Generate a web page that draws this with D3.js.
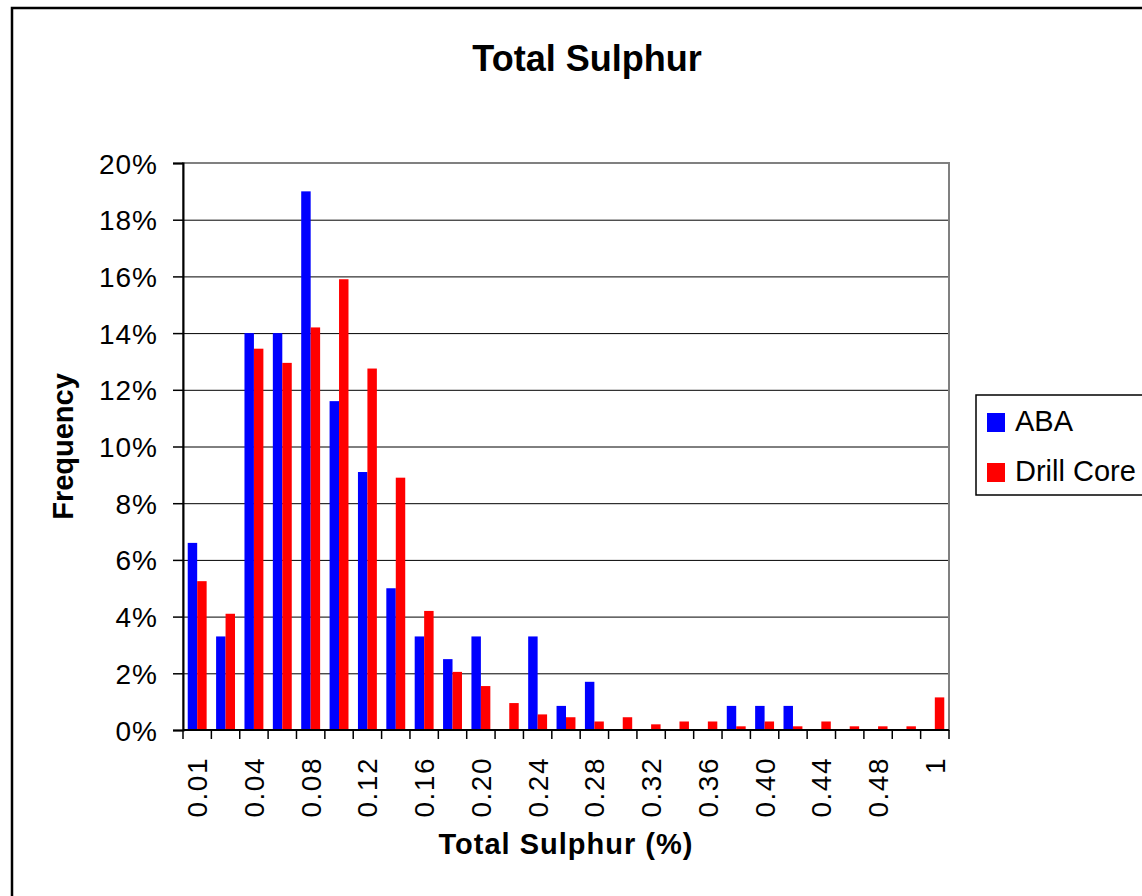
<!DOCTYPE html>
<html>
<head>
<meta charset="utf-8">
<script src="https://cdn.jsdelivr.net/npm/d3@7"></script>
<style>
  html, body { margin: 0; padding: 0; background: #fff; overflow: hidden; }
  svg { display: block; font-family: Arial, 'Liberation Sans', sans-serif; }
</style>
</head>
<body>
<svg id="chart" width="1142" height="896"></svg>
<script>
// bins of total sulphur (%)
const categories = ['0.01', '0.02', '0.04', '0.06', '0.08', '0.10', '0.12', '0.14', '0.16', '0.18',
  '0.20', '0.22', '0.24', '0.26', '0.28', '0.30', '0.32', '0.34', '0.36', '0.38',
  '0.40', '0.42', '0.44', '0.46', '0.48', '0.50', '1'];
// only every other bin is labelled on the axis
const shownLabels = ['0.01', '0.04', '0.08', '0.12', '0.16', '0.20', '0.24', '0.28', '0.32',
  '0.36', '0.40', '0.44', '0.48', '1'];
const seriesNames = ['ABA', 'Drill Core'];
const abaValues = [6.6, 3.3, 14.0, 14.0, 19.0, 11.6, 9.1, 5.0, 3.3, 2.5,
  3.3, 0, 3.3, 0.85, 1.7, 0, 0, 0, 0, 0.85,
  0.85, 0.85, 0, 0, 0, 0, 0];
const drillValues = [5.25, 4.1, 13.45, 12.95, 14.2, 15.9, 12.75, 8.9, 4.2, 2.05,
  1.55, 0.95, 0.55, 0.45, 0.3, 0.45, 0.2, 0.3, 0.3, 0.13,
  0.3, 0.13, 0.3, 0.13, 0.13, 0.13, 1.15];
const yTicks = [0, 2, 4, 6, 8, 10, 12, 14, 16, 18, 20];
const colors = ['#0000ff', '#ff0000'];

const svg = d3.select('#chart');
const plot = { left: 183, top: 163, right: 949, bottom: 730 };

const rows = categories.map((c, i) => ({ cat: c, values: [abaValues[i], drillValues[i]] }));

const x0 = d3.scaleBand()
  .domain(categories)
  .range([plot.left, plot.right])
  .paddingInner(1 / 3)
  .paddingOuter(1 / 6);
const x1 = d3.scaleBand()
  .domain([0, 1])
  .range([0, x0.bandwidth()]);
const y = d3.scaleLinear()
  .domain([0, 20])
  .range([plot.bottom, plot.top]);
const step = x0.step();

// outer chart frame (runs off the right and bottom of the picture)
svg.append('rect')
  .attr('x', 12).attr('y', 8)
  .attr('width', 1160).attr('height', 910)
  .attr('fill', '#fff')
  .attr('stroke', '#000')
  .attr('stroke-width', 2.5);

// title
svg.append('text')
  .attr('x', 587).attr('y', 71)
  .attr('text-anchor', 'middle')
  .attr('font-size', 36).attr('font-weight', 'bold')
  .text('Total Sulphur');

// gridlines
svg.append('g')
  .selectAll('line')
  .data(yTicks.slice(1, -1))
  .enter().append('line')
  .attr('x1', plot.left).attr('x2', plot.right)
  .attr('y1', d => y(d) + 0.5).attr('y2', d => y(d) + 0.5)
  .attr('stroke', '#000').attr('stroke-width', 1);

// plot area border (grey)
svg.append('rect')
  .attr('x', plot.left).attr('y', plot.top)
  .attr('width', plot.right - plot.left).attr('height', plot.bottom - plot.top)
  .attr('fill', 'none')
  .attr('stroke', '#808080').attr('stroke-width', 2);

// bars
const groups = svg.append('g')
  .selectAll('g')
  .data(rows)
  .enter().append('g')
  .attr('transform', d => `translate(${x0(d.cat)},0)`);
groups.selectAll('rect')
  .data(d => d.values)
  .enter().append('rect')
  .attr('x', (d, i) => x1(i))
  .attr('y', d => y(d))
  .attr('width', x1.bandwidth())
  .attr('height', d => y(0) - y(d))
  .attr('fill', (d, i) => colors[i]);

// y axis
const yAxis = svg.append('g')
  .attr('transform', `translate(${plot.left},0)`)
  .call(d3.axisLeft(y).tickValues(yTicks).tickSize(10).tickPadding(0).tickFormat(d => d + '%'));
yAxis.select('.domain').attr('stroke', '#000').attr('stroke-width', 2);
yAxis.selectAll('.tick line').attr('stroke', '#000').attr('stroke-width', 1.5);
yAxis.selectAll('.tick text')
  .attr('x', -25)
  .attr('dy', '0.36em')
  .attr('font-size', 28)
  .attr('letter-spacing', '1px')
  .attr('font-family', 'Arial, Liberation Sans, sans-serif')
  .attr('fill', '#000');

// x axis: ticks on the bin boundaries
const xAxis = svg.append('g');
xAxis.append('line')
  .attr('x1', plot.left).attr('x2', plot.right)
  .attr('y1', plot.bottom).attr('y2', plot.bottom)
  .attr('stroke', '#000').attr('stroke-width', 2);
xAxis.selectAll('.xtick')
  .data(d3.range(categories.length + 1))
  .enter().append('line')
  .attr('class', 'xtick')
  .attr('x1', i => plot.left + i * step).attr('x2', i => plot.left + i * step)
  .attr('y1', plot.bottom).attr('y2', plot.bottom + 9)
  .attr('stroke', '#000').attr('stroke-width', 1.5);
xAxis.selectAll('.xlabel')
  .data(shownLabels)
  .enter().append('text')
  .attr('class', 'xlabel')
  .attr('transform', d => `translate(${x0(d) + x0.bandwidth() / 2 + 10},757) rotate(-90)`)
  .attr('text-anchor', 'end')
  .attr('font-size', 28)
  .attr('letter-spacing', '1.5px')
  .text(d => d);

// axis titles
svg.append('text')
  .attr('x', (plot.left + plot.right) / 2).attr('y', 854)
  .attr('text-anchor', 'middle')
  .attr('font-size', 29).attr('font-weight', 'bold')
  .attr('letter-spacing', '1px')
  .text('Total Sulphur (%)');
svg.append('text')
  .attr('transform', `translate(73,${(plot.top + plot.bottom) / 2}) rotate(-90)`)
  .attr('text-anchor', 'middle')
  .attr('font-size', 29).attr('font-weight', 'bold')
  .text('Frequency');

// legend
const legend = svg.append('g');
legend.append('rect')
  .attr('x', 976).attr('y', 395)
  .attr('width', 200).attr('height', 100)
  .attr('fill', '#fff')
  .attr('stroke', '#000').attr('stroke-width', 1.5);
const items = legend.selectAll('.item')
  .data(seriesNames)
  .enter().append('g')
  .attr('class', 'item')
  .attr('transform', (d, i) => `translate(987,${413 + i * 50})`);
items.append('rect')
  .attr('width', 18).attr('height', 19)
  .attr('fill', (d, i) => colors[i]);
items.append('text')
  .attr('x', 28).attr('y', 18)
  .attr('font-size', 29)
  .text(d => d);
</script>
</body>
</html>
